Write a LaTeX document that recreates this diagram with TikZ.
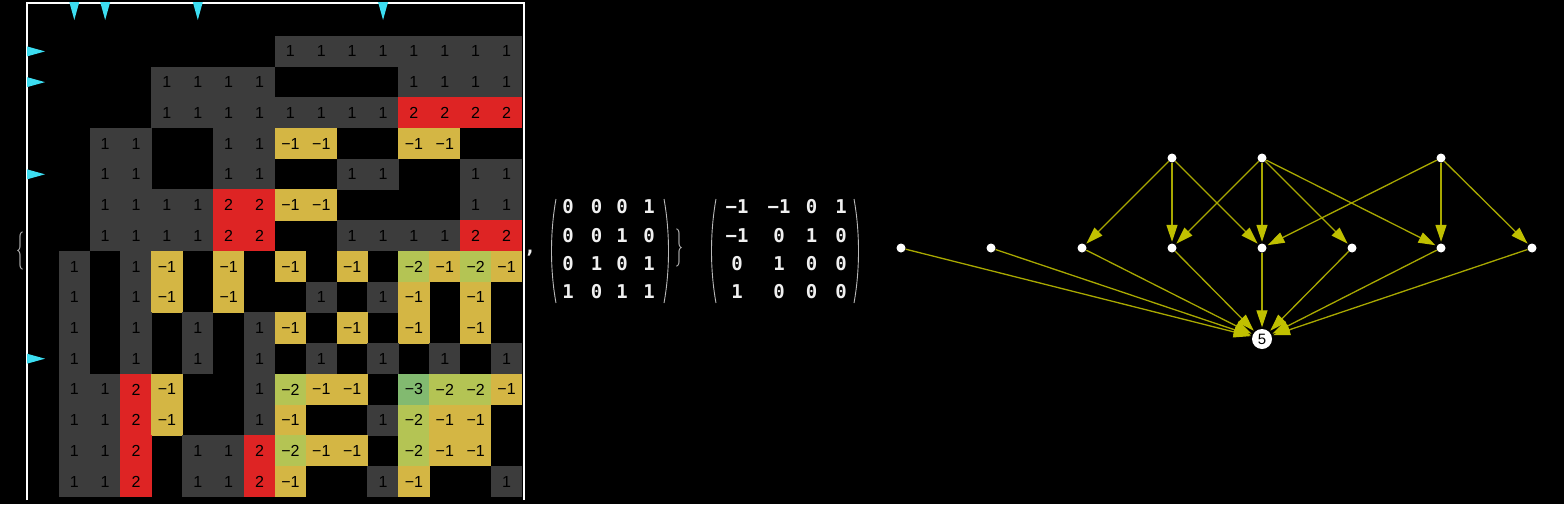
\documentclass[tikz,border=0pt]{standalone}
\usepackage{fontspec}
\newfontfamily\gridfont{Liberation Sans}
\newfontfamily\matfont{DejaVu Sans Mono}
\usetikzlibrary{arrows.meta}
\definecolor{cgray}{RGB}{60,60,60}
\definecolor{cred}{RGB}{222,36,36}
\definecolor{cya}{RGB}{212,182,68}
\definecolor{cyb}{RGB}{180,196,84}
\definecolor{cyc}{RGB}{130,186,112}
\definecolor{markc}{RGB}{60,222,242}
\definecolor{edgec}{RGB}{168,168,0}
\definecolor{headc}{RGB}{192,192,0}
\definecolor{delim}{RGB}{185,185,185}
\tikzset{
  cell/.style={minimum width=31.3pt, minimum height=31.2pt, inner sep=0pt,
    font=\gridfont\fontsize{16}{16}\selectfont, text=black},
  v1/.style={fill=cgray}, v2/.style={fill=cred},
  v-1/.style={fill=cya}, v-2/.style={fill=cyb}, v-3/.style={fill=cyc},
  ment/.style={inner sep=0pt, text=white!94!black, font=\matfont\bfseries\fontsize{19}{19}\selectfont},
  gnode/.style={circle, fill=white, minimum size=9pt, inner sep=0pt},
  bnode/.style={circle, fill=white, minimum size=20pt, inner sep=0pt,
    font=\gridfont\fontsize{15}{15}\selectfont, text=black},
  edge/.style={draw=edgec, line width=1.3pt, shorten >=1.5pt,
    -{Triangle[length=17pt,width=11pt,fill=headc,color=headc]}},
  brace/.style={inner sep=0pt, text=delim},
  paren/.style={draw=delim, line width=0.9pt},
}
\begin{document}
\begin{tikzpicture}[x=1pt,y=-1pt]
\fill[black] (0,0) rectangle (1564,504);
\useasboundingbox (0,0) rectangle (1564,504);
% grid
\foreach \rowvals [count=\r from 0] in {
 {0,0,0,0,0,0,0,0,0,0,0,0,0,0,0,0},
 {0,0,0,0,0,0,0,0,1,1,1,1,1,1,1,1},
 {0,0,0,0,1,1,1,1,0,0,0,0,1,1,1,1},
 {0,0,0,0,1,1,1,1,1,1,1,1,2,2,2,2},
 {0,0,1,1,0,0,1,1,-1,-1,0,0,-1,-1,0,0},
 {0,0,1,1,0,0,1,1,0,0,1,1,0,0,1,1},
 {0,0,1,1,1,1,2,2,-1,-1,0,0,0,0,1,1},
 {0,0,1,1,1,1,2,2,0,0,1,1,1,1,2,2},
 {0,1,0,1,-1,0,-1,0,-1,0,-1,0,-2,-1,-2,-1},
 {0,1,0,1,-1,0,-1,0,0,1,0,1,-1,0,-1,0},
 {0,1,0,1,0,1,0,1,-1,0,-1,0,-1,0,-1,0},
 {0,1,0,1,0,1,0,1,0,1,0,1,0,1,0,1},
 {0,1,1,2,-1,0,0,1,-2,-1,-1,0,-3,-2,-2,-1},
 {0,1,1,2,-1,0,0,1,-1,0,0,1,-2,-1,-1,0},
 {0,1,1,2,0,1,1,2,-2,-1,-1,0,-2,-1,-1,0},
 {0,1,1,2,0,1,1,2,-1,0,0,1,-1,0,0,1}}{
  \foreach \v [count=\c from 0] in \rowvals {
    \ifnum\v=0\relax\else
      \node[cell,v\v] (g-\r-\c) at ({28+(\c+0.5)*30.875},{5.3+(\r+0.5)*30.73})
        {\ifnum\v<0 −\number-\v\else\v\fi};
    \fi
  }
}
% frame
\draw[white, line width=2.5pt] (27,500) -- (27,3) -- (524,3) -- (524,500);
% markers
\foreach \c in {1,2,5,11}
  \fill[markc] ({28+(\c+0.5)*30.875-5},2) -- ++(10,0) -- ({28+(\c+0.5)*30.875},20) -- cycle;
\foreach \r in {1,2,5,11}
  \fill[markc] (27,{5.3+(\r+0.5)*30.73-5}) -- ++(0,10) -- (45,{5.3+(\r+0.5)*30.73}) -- cycle;
% braces and comma
\node[brace] (lbrace) at (20,251) {\scalebox{0.42}[1]{\fontsize{38}{38}\selectfont\{}};
\node[brace] (rbrace) at (679,248) {\scalebox{0.42}[1]{\fontsize{38}{38}\selectfont\}}};
\node[ment, anchor=base] (comma) at (530,253) {,};
% matrix 1
\draw[paren] (556,199) .. controls (550,232) and (550,270) .. (556,303);
\draw[paren] (664,199) .. controls (670,232) and (670,270) .. (664,303);
\foreach \rowvals [count=\i] in {{0/568,0/596.5,0/622,1/649},{0/568,0/596.5,1/622,0/649},{0/568,1/596.5,0/622,1/649},{1/568,0/596.5,1/622,1/649}}{
  \foreach \v/\x [count=\j] in \rowvals {
    \node[ment] (ma-\i-\j) at (\x,{207+(\i-1)*28.3}) {\v};
  }
}
% matrix 2
\draw[paren] (716,199) .. controls (710,232) and (710,270) .. (716,303);
\draw[paren] (854,199) .. controls (860,232) and (860,270) .. (854,303);
\foreach \rowvals [count=\i] in {{−1/737,−1/779,0/811.5,1/841},{−1/737,0/779,1/811.5,0/841},{0/737,1/779,0/811.5,0/841},{1/737,0/779,0/811.5,0/841}}{
  \foreach \v/\x [count=\j] in \rowvals {
    \node[ment] (mb-\i-\j) at (\x,{207+(\i-1)*28.3}) {\v};
  }
}
% graph
\node[gnode] (T1) at (1172,158) {};
\node[gnode] (T2) at (1262,158) {};
\node[gnode] (T3) at (1441,158) {};
\foreach \x [count=\k] in {901,991,1082,1172,1262,1352,1441,1532}
  \node[gnode] (M\k) at (\x,248) {};
\node[bnode] (B) at (1262,339) {5};
\foreach \s/\t in {T1/M3,T1/M4,T1/M5,T2/M4,T2/M5,T2/M6,T2/M7,T3/M5,T3/M7,T3/M8}
  \draw[edge] (\s) -- (\t);
\foreach \k in {1,...,8}
  \draw[edge] (M\k) -- (B);
\end{tikzpicture}
\end{document}
